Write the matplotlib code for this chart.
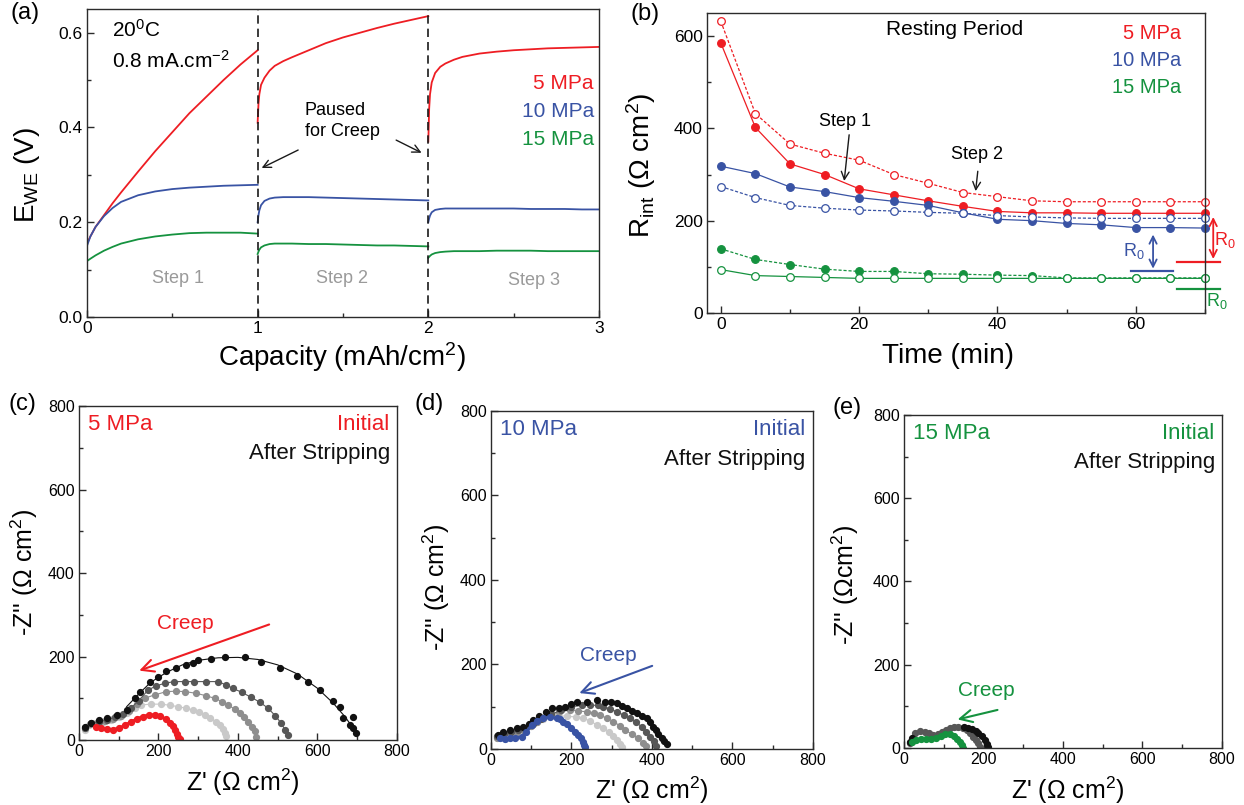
import numpy as np
import matplotlib.pyplot as plt
from matplotlib.ticker import MultipleLocator

plt.rcParams['font.family'] = ['Liberation Sans', 'DejaVu Sans']
plt.rcParams['mathtext.fontset'] = 'custom'
plt.rcParams['mathtext.rm'] = 'Liberation Sans'
plt.rcParams['mathtext.it'] = 'Liberation Sans:italic'
plt.rcParams['mathtext.bf'] = 'Liberation Sans:bold'
plt.rcParams['xtick.direction'] = 'in'
plt.rcParams['ytick.direction'] = 'in'

RED = '#ee1d23'
BLUE = '#3953a4'
GREEN = '#15923f'
STEPGRAY = '#9a9a9a'

# (a) potential during the three stripping steps
step1_x = [0, 0.02, 0.05, 0.1, 0.15, 0.2, 0.3, 0.4, 0.5, 0.6, 0.7, 0.8, 0.9, 1.0]
red1 = [0.155, 0.17, 0.19, 0.215, 0.24, 0.263, 0.307, 0.35, 0.39, 0.43, 0.465, 0.5, 0.533, 0.563]
blue1 = [0.15, 0.17, 0.19, 0.213, 0.23, 0.243, 0.257, 0.265, 0.27, 0.273, 0.275, 0.277, 0.278, 0.279]
green1 = [0.118, 0.123, 0.13, 0.14, 0.148, 0.155, 0.164, 0.17, 0.174, 0.177, 0.178, 0.178, 0.178, 0.176]

step2_x = [1.0, 1.005, 1.01, 1.02, 1.04, 1.07, 1.1, 1.15, 1.2, 1.3, 1.4, 1.5, 1.6, 1.7, 1.8, 1.9, 2.0]
red2 = [0.41, 0.45, 0.47, 0.49, 0.505, 0.52, 0.53, 0.54, 0.548, 0.563, 0.578, 0.59, 0.60, 0.61, 0.619, 0.627, 0.635]
blue2 = [0.2, 0.215, 0.225, 0.236, 0.245, 0.25, 0.252, 0.253, 0.253, 0.253, 0.252, 0.251, 0.25, 0.249, 0.248, 0.247, 0.246]
green2 = [0.133, 0.138, 0.142, 0.147, 0.151, 0.154, 0.155, 0.155, 0.155, 0.154, 0.154, 0.153, 0.152, 0.151, 0.151, 0.15, 0.149]

step3_x = [2.0, 2.005, 2.01, 2.02, 2.04, 2.07, 2.1, 2.15, 2.2, 2.3, 2.4, 2.5, 2.6, 2.7, 2.8, 2.9, 3.0]
red3 = [0.37, 0.44, 0.47, 0.495, 0.515, 0.528, 0.535, 0.543, 0.549, 0.556, 0.56, 0.563, 0.565, 0.567, 0.568, 0.569, 0.57]
blue3 = [0.2, 0.208, 0.214, 0.221, 0.226, 0.228, 0.229, 0.229, 0.229, 0.229, 0.229, 0.229, 0.228, 0.228, 0.228, 0.227, 0.227]
green3 = [0.125, 0.127, 0.129, 0.132, 0.135, 0.137, 0.138, 0.139, 0.139, 0.139, 0.14, 0.14, 0.14, 0.139, 0.139, 0.139, 0.139]

# (b) interfacial resistance while resting
rest_t = [0, 5, 10, 15, 20, 25, 30, 35, 40, 45, 50, 55, 60, 65, 70]
r5_step1 = [585, 402, 323, 300, 269, 256, 243, 231, 220, 217, 217, 216, 216, 216, 216]
r5_step2 = [632, 432, 366, 346, 331, 300, 281, 261, 252, 243, 241, 241, 241, 241, 241]
r10_step1 = [318, 302, 273, 263, 250, 242, 233, 217, 203, 200, 194, 191, 185, 185, 184]
r10_step2 = [274, 250, 233, 227, 223, 221, 218, 216, 211, 208, 206, 205, 205, 205, 205]
r15_step1 = [139, 116, 105, 95, 90, 90, 85, 84, 82, 81, 76, 76, 76, 76, 76]
r15_step2 = [94, 81, 79, 77, 75, 75, 75, 75, 75, 75, 75, 75, 75, 75, 75]

# (c) 5 MPa impedance spectra
c_init_x = [42, 55, 70, 85, 100, 115, 130, 145, 160, 175, 190, 205, 218, 228, 236, 242, 247, 250, 253]
c_init_y = [32, 28, 26, 25, 28, 35, 43, 50, 56, 60, 60, 57, 50, 42, 33, 24, 15, 8, 2]
c_g1_x = [14, 25, 40, 60, 80, 100, 120, 140, 157, 180, 207, 230, 249, 270, 287, 302, 316, 330, 345, 355, 362, 368, 371]
c_g1_y = [25, 35, 40, 44, 48, 55, 65, 76, 84, 86, 86, 83, 80, 76, 72, 66, 60, 52, 44, 35, 26, 18, 10]
c_g2_x = [15, 28, 45, 65, 85, 105, 125, 145, 165, 190, 220, 245, 266, 295, 320, 341, 360, 375, 392, 404, 416, 425, 435, 442, 446]
c_g2_y = [28, 38, 42, 46, 50, 58, 70, 86, 100, 108, 116, 117, 116, 112, 106, 100, 92, 84, 74, 64, 54, 44, 32, 22, 8]
c_g3_x = [16, 30, 50, 70, 90, 110, 130, 150, 174, 195, 216, 240, 266, 290, 320, 350, 370, 387, 410, 434, 456, 476, 494, 509, 518, 526]
c_g3_y = [30, 40, 44, 48, 54, 62, 76, 94, 120, 130, 136, 140, 140, 140, 140, 140, 132, 124, 114, 102, 90, 76, 58, 40, 25, 12]
c_b_x = [14, 30, 50, 70, 95, 120, 140, 154, 178, 200, 220, 245, 270, 287, 299, 331, 367, 417, 459, 505, 549, 576, 606, 639, 656, 664, 689, 681, 690, 698]
c_b_y = [32, 42, 48, 52, 60, 72, 100, 116, 140, 150, 166, 172, 180, 185, 192, 193, 200, 200, 188, 172, 153, 140, 120, 94, 80, 52, 54, 36, 30, 18]
c_fit_x = [120, 150, 180, 220, 260, 300, 350, 400, 450, 500, 550, 600, 640, 670, 690, 700]
c_fit_y = [80, 110, 138, 162, 180, 191, 197, 198, 193, 180, 158, 124, 88, 55, 28, 12]

# (d) 10 MPa impedance spectra
d_init_x = [22, 35, 47, 60, 76, 88, 101, 115, 130, 147, 163, 172, 180, 190, 200, 208, 217, 224, 229, 232, 234]
d_init_y = [25, 24, 25, 26, 29, 40, 57, 66, 73, 75, 73, 70, 65, 58, 49, 41, 33, 25, 17, 10, 4]
d_g1_x = [14, 30, 47, 64, 80, 100, 114, 130, 147, 165, 188, 210, 229, 247, 263, 278, 292, 304, 314, 320, 325]
d_g1_y = [29, 33, 37, 41, 45, 55, 65, 72, 80, 80, 77, 76, 73, 66, 57, 50, 41, 31, 21, 12, 5]
d_g2_x = [14, 30, 47, 64, 80, 100, 114, 130, 147, 170, 196, 217, 238, 255, 271, 288, 304, 320, 333, 350, 366, 378, 385]
d_g2_y = [27, 32, 37, 41, 45, 55, 65, 74, 82, 88, 92, 90, 88, 85, 80, 73, 65, 55, 45, 35, 25, 14, 6]
d_g3_x = [16, 32, 50, 68, 85, 105, 125, 150, 175, 200, 225, 246, 265, 279, 296, 312, 330, 345, 360, 374, 386, 395, 404, 410]
d_g3_y = [30, 35, 40, 44, 48, 58, 70, 82, 92, 100, 103, 104, 103, 100, 95, 88, 80, 73, 63, 53, 41, 29, 18, 8]
d_b_x = [18, 31, 47, 64, 80, 95, 105, 120, 137, 151, 168, 184, 198, 213, 238, 263, 283, 298, 312, 325, 337, 350, 362, 375, 387, 396, 403, 410, 416, 424, 431, 437]
d_b_y = [34, 41, 45, 49, 52, 60, 69, 78, 88, 96, 98, 100, 106, 112, 112, 116, 112, 110, 108, 102, 96, 90, 84, 78, 73, 63, 53, 45, 35, 27, 19, 12]

# (e) 15 MPa impedance spectra
e_init_x = [20, 30, 42, 55, 68, 80, 92, 104, 116, 126, 134, 140, 145, 149]
e_init_y = [14, 20, 22, 22, 21, 24, 30, 34, 33, 28, 21, 14, 7, 1]
e_g_x = [16, 22, 28, 40, 53, 64, 74, 85, 95, 106, 116, 126, 137, 148, 158, 167, 174, 181, 187, 191]
e_g_y = [12, 24, 35, 40, 39, 35, 31, 34, 39, 43, 47, 50, 51, 48, 43, 36, 27, 19, 11, 3]
e_b_x = [14, 20, 150, 160, 170, 180, 187, 195, 204, 209, 212]
e_b_y = [15, 25, 50, 48, 45, 40, 35, 28, 19, 10, 3]


def style_axes(ax, size):
    for s in ax.spines.values():
        s.set_color('#2b2b2b')
        s.set_linewidth(1.0)
    ax.tick_params(which='both', top=False, right=False, labelsize=size,
                   color='#2b2b2b', pad=3)
    ax.tick_params(which='major', length=5, width=1.0)
    ax.tick_params(which='minor', length=3, width=1.0)


fig = plt.figure(figsize=(12.44, 8.05), dpi=100)

# ---------------- (a)
ax = fig.add_axes([0.0699, 0.6062, 0.4116, 0.3826])
for xs, r, b, g in [(step1_x, red1, blue1, green1),
                    (step2_x, red2, blue2, green2),
                    (step3_x, red3, blue3, green3)]:
    ax.plot(xs, r, color=RED, lw=1.3)
    ax.plot(xs, b, color=BLUE, lw=1.3)
    ax.plot(xs, g, color=GREEN, lw=1.3)
for xv in (1, 2):
    ax.axvline(xv, color='#1a1a1a', lw=1.2, ls=(0, (5, 3)))
ax.set_xlim(0, 3)
ax.set_ylim(0, 0.65)
ax.xaxis.set_major_locator(MultipleLocator(1))
ax.xaxis.set_minor_locator(MultipleLocator(0.5))
ax.yaxis.set_major_locator(MultipleLocator(0.2))
ax.yaxis.set_minor_locator(MultipleLocator(0.1))
ax.yaxis.set_major_formatter(plt.FormatStrFormatter('%.1f'))
style_axes(ax, 12.5)
ax.set_xlabel('Capacity (mAh/cm$^2$)', fontsize=20)
ax.set_ylabel('E$_{\\rm WE}$ (V)', fontsize=20)
ax.xaxis.set_label_coords(0.498, -0.075)
ax.yaxis.set_label_coords(-0.088, 0.46)
ax.text(0.146, 0.606, '20$^0$C', fontsize=15, va='center')
ax.text(0.146, 0.541, '0.8 mA.cm$^{-2}$', fontsize=15, va='center')
ax.text(2.97, 0.493, '5 MPa', color=RED, fontsize=15, ha='right', va='center')
ax.text(2.97, 0.434, '10 MPa', color=BLUE, fontsize=15, ha='right', va='center')
ax.text(2.97, 0.375, '15 MPa', color=GREEN, fontsize=15, ha='right', va='center')
ax.text(1.275, 0.414, 'Paused\nfor Creep', fontsize=13, va='center', linespacing=1.3)
arrow_k = dict(arrowstyle='->', color='#1a1a1a', lw=1.0, mutation_scale=14)
ax.annotate('', xy=(1.009, 0.312), xytext=(1.252, 0.355), arrowprops=arrow_k)
ax.annotate('', xy=(1.975, 0.344), xytext=(1.797, 0.376), arrowprops=arrow_k)
ax.text(0.535, 0.082, 'Step 1', color=STEPGRAY, fontsize=13, ha='center', va='center')
ax.text(1.495, 0.082, 'Step 2', color=STEPGRAY, fontsize=13, ha='center', va='center')
ax.text(2.618, 0.078, 'Step 3', color=STEPGRAY, fontsize=13, ha='center', va='center')

# ---------------- (b)
ax = fig.add_axes([0.5683, 0.6112, 0.4003, 0.3727])
dash = (0, (2.5, 1.5))
series = [(r5_step1, RED, True, '-'), (r5_step2, RED, False, dash),
          (r10_step1, BLUE, True, '-'), (r10_step2, BLUE, False, dash),
          (r15_step1, GREEN, True, dash), (r15_step2, GREEN, False, '-')]
for vals, col, filled, ls in series:
    ax.plot(rest_t, vals, color=col, lw=0.9, ls=ls, marker='o', ms=5.5,
            mfc=col if filled else 'white', mec=col, mew=0.9, clip_on=False)
ax.set_xlim(-2, 70)
ax.set_ylim(0, 650)
ax.xaxis.set_major_locator(MultipleLocator(20))
ax.xaxis.set_minor_locator(MultipleLocator(10))
ax.yaxis.set_major_locator(MultipleLocator(200))
ax.yaxis.set_minor_locator(MultipleLocator(100))
style_axes(ax, 12.5)
ax.set_xlabel('Time (min)', fontsize=20)
ax.set_ylabel('R$_{\\rm int}$ (Ω cm$^2$)', fontsize=20)
ax.xaxis.set_label_coords(0.484, -0.1)
ax.yaxis.set_label_coords(-0.098, 0.493)
ax.text(33.8, 615, 'Resting Period', fontsize=15, ha='center', va='center')
ax.text(66.6, 605, '5 MPa', color=RED, fontsize=14.5, ha='right', va='center')
ax.text(66.6, 547, '10 MPa', color=BLUE, fontsize=14.5, ha='right', va='center')
ax.text(66.6, 488, '15 MPa', color=GREEN, fontsize=14.5, ha='right', va='center')
ax.text(18.0, 414, 'Step 1', fontsize=13, ha='center', va='center')
ax.annotate('', xy=(17.8, 280), xytext=(18.6, 392), arrowprops=arrow_k)
ax.text(37.0, 344, 'Step 2', fontsize=13, ha='center', va='center')
ax.annotate('', xy=(36.8, 258), xytext=(37.2, 313), arrowprops=arrow_k)
# R0 markers
ax.plot([59.3, 65.4], [90, 90], color=BLUE, lw=1.6, clip_on=False)
ax.annotate('', xy=(62.5, 176), xytext=(62.5, 90),
            arrowprops=dict(arrowstyle='<->', color=BLUE, lw=1.3, mutation_scale=13))
ax.text(59.7, 135, 'R$_0$', color=BLUE, fontsize=13, ha='center', va='center')
ax.plot([66.0, 72.2], [111, 111], color=RED, lw=1.6, clip_on=False)
ax.annotate('', xy=(71.2, 214), xytext=(71.2, 111), annotation_clip=False,
            arrowprops=dict(arrowstyle='<->', color=RED, lw=1.3, mutation_scale=13))
ax.text(72.9, 158, 'R$_0$', color=RED, fontsize=13, ha='center', va='center', clip_on=False)
ax.plot([66.0, 72.2], [53, 53], color=GREEN, lw=1.6, clip_on=False)
ax.text(71.7, 27, 'R$_0$', color=GREEN, fontsize=13, ha='center', va='center', clip_on=False)

# ---------------- (c), (d), (e)
GRAYS = ['#c9c9c9', '#8e8e8e', '#575757']


def nyquist(ax, init, grays, black, fit, col, name, ylabel, creep, ms):
    for (xs, ys), gc in zip(grays, GRAYS[-len(grays):] if len(grays) < 3 else GRAYS):
        ax.plot(xs, ys, color=gc, lw=0.8, marker='o', ms=ms, mec=gc, mfc=gc)
    ax.plot(black[0], black[1], ls='none', marker='o', ms=ms, color='#111111')
    if fit is not None:
        ax.plot(fit[0], fit[1], color='#111111', lw=0.8)
    ax.plot(init[0], init[1], color=col, lw=2.2, marker='o', ms=ms, mec=col, mfc=col)
    ax.set_xlim(0, 800)
    ax.set_ylim(0, 800)
    for a in (ax.xaxis, ax.yaxis):
        a.set_major_locator(MultipleLocator(200))
        a.set_minor_locator(MultipleLocator(100))
    style_axes(ax, 11.5)
    ax.set_xlabel("Z' (Ω cm$^2$)", fontsize=18)
    ax.set_ylabel(ylabel, fontsize=18)
    ax.text(22, 755, name, color=col, fontsize=16, va='center')
    ax.text(780, 755, 'Initial', color=col, fontsize=16, ha='right', va='center')
    ax.text(782, 686, 'After Stripping', color='#111111', fontsize=16, ha='right', va='center')
    (tx, ty), (hx, hy), (lx, ly) = creep
    ax.annotate('', xy=(hx, hy), xytext=(tx, ty),
                arrowprops=dict(arrowstyle='->', color=col, lw=1.5, mutation_scale=22))
    ax.text(lx, ly, 'Creep', color=col, fontsize=15, ha='center', va='center')


ax = fig.add_axes([0.0635, 0.0807, 0.2556, 0.4149])
nyquist(ax, (c_init_x, c_init_y),
        [(c_g1_x, c_g1_y), (c_g2_x, c_g2_y), (c_g3_x, c_g3_y)],
        (c_b_x, c_b_y), (c_fit_x, c_fit_y), RED, '5 MPa',
        "-Z'' (Ω cm$^2$)", ((485, 279), (145, 164), (267, 280)), 4.2)
ax.xaxis.set_label_coords(0.516, -0.081)
ax.yaxis.set_label_coords(-0.123, 0.503)

ax = fig.add_axes([0.3947, 0.0696, 0.2588, 0.4199])
nyquist(ax, (d_init_x, d_init_y),
        [(d_g1_x, d_g1_y), (d_g2_x, d_g2_y), (d_g3_x, d_g3_y)],
        (d_b_x, d_b_y), None, BLUE, '10 MPa',
        "-Z'' (Ω cm$^2$)", ((407, 199), (213, 130), (291, 222)), 4.2)
ax.xaxis.set_label_coords(0.499, -0.077)
ax.yaxis.set_label_coords(-0.121, 0.479)

ax = fig.add_axes([0.7267, 0.0708, 0.2556, 0.4137])
nyquist(ax, (e_init_x, e_init_y), [(e_g_x, e_g_y)],
        (e_b_x, e_b_y), None, GREEN, '15 MPa',
        "-Z'' (Ωcm$^2$)", ((242, 93), (128, 67), (208, 139)), 4.2)
ax.xaxis.set_label_coords(0.516, -0.081)
ax.yaxis.set_label_coords(-0.135, 0.49)

# panel letters
for x, y, s in [(10, 2, '(a)'), (630, 3, '(b)'), (8, 393, '(c)'),
                (415, 393, '(d)'), (832, 397, '(e)')]:
    fig.text(x / 1244, 1 - y / 805, s, fontsize=17, ha='left', va='top')

fig.savefig('out.png', dpi=100)
